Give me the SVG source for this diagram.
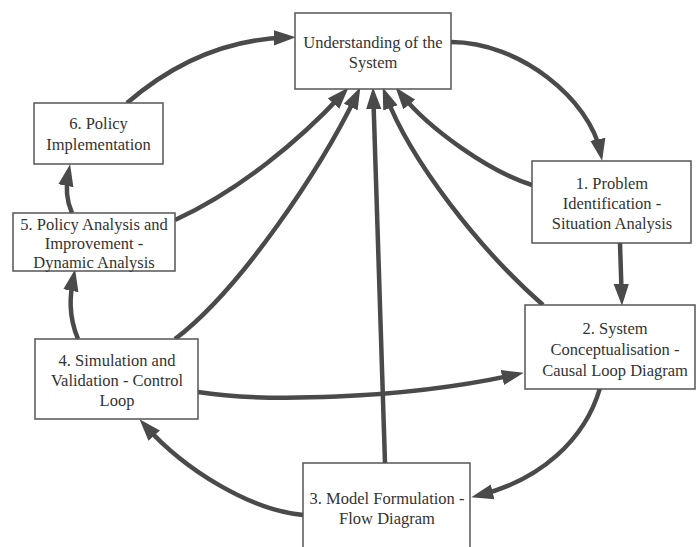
<svg xmlns="http://www.w3.org/2000/svg" width="697" height="547" viewBox="0 0 697 547">
<style>
.box{fill:#fff;stroke:#555;stroke-width:1.5}
.t{font-family:"Liberation Serif","Times New Roman",serif;font-size:16.5px;fill:#333;text-anchor:middle;dominant-baseline:central}
.c{fill:none;stroke:#4a4a4a;stroke-width:4.5;marker-end:url(#ah)}
</style>
<defs>
<marker id="ah" markerUnits="userSpaceOnUse" markerWidth="22" markerHeight="16" refX="12" refY="7" orient="auto" viewBox="0 0 20 14">
<path d="M0,0 L20,7 L0,14 z" fill="#4a4a4a"/>
</marker>
</defs>
<rect width="697" height="547" fill="#fff"/>
<g id="connectors">
<path class="c" d="M127,103 Q200,40 287,37.5"/>
<path class="c" d="M451,42 C520,42 590,100 600.4,152.2"/>
<path class="c" d="M532,185 C490,172 430,130 401,94.2"/>
<path class="c" d="M620,243 L621.7,297"/>
<path class="c" d="M543,305 C480,250 410,160 385.8,95.5"/>
<path class="c" d="M600,388 C585,440 540,480 479.8,495.1"/>
<path class="c" d="M385,463 L373.3,96"/>
<path class="c" d="M303,515 C250,510 185,470 145.4,425.9"/>
<path class="c" d="M198,392 C260,402 400,400 515.2,374.7"/>
<path class="c" d="M175,339 C240,290 320,170 356.5,95.2"/>
<path class="c" d="M175,220 C240,190 300,140 342.6,93.9"/>
<path class="c" d="M78,339 C68,315 70,295 73.4,277.8"/>
<path class="c" d="M72,213 C66,200 66,185 68.4,172.8"/>
</g>
<g id="n0">
<rect class="box" x="295" y="13" width="156" height="76"/>
<text class="t" x="373" y="42">Understanding of the</text>
<text class="t" x="373" y="62">System</text>
</g>
<g id="n1">
<rect class="box" x="532" y="161" width="159" height="82"/>
<text class="t" x="612" y="183">1. Problem</text>
<text class="t" x="612" y="203">Identification -</text>
<text class="t" x="612" y="223">Situation Analysis</text>
</g>
<g id="n2">
<rect class="box" x="525" y="305" width="170" height="84"/>
<text class="t" x="615" y="328">2. System</text>
<text class="t" x="615" y="349">Conceptualisation -</text>
<text class="t" x="615" y="370">Causal Loop Diagram</text>
</g>
<g id="n3">
<rect class="box" x="303" y="463" width="167" height="100"/>
<text class="t" x="387" y="498">3. Model Formulation -</text>
<text class="t" x="387" y="518">Flow Diagram</text>
</g>
<g id="n4">
<rect class="box" x="35" y="339" width="163" height="80"/>
<text class="t" x="117" y="360">4. Simulation and</text>
<text class="t" x="117" y="380">Validation - Control</text>
<text class="t" x="117" y="400">Loop</text>
</g>
<g id="n5">
<rect class="box" x="13" y="213" width="162" height="58"/>
<text class="t" x="94" y="224">5. Policy Analysis and</text>
<text class="t" x="94" y="243">Improvement -</text>
<text class="t" x="94" y="262">Dynamic Analysis</text>
</g>
<g id="n6">
<rect class="box" x="34" y="103" width="129" height="61"/>
<text class="t" x="98.5" y="123">6. Policy</text>
<text class="t" x="98.5" y="144">Implementation</text>
</g>
</svg>
